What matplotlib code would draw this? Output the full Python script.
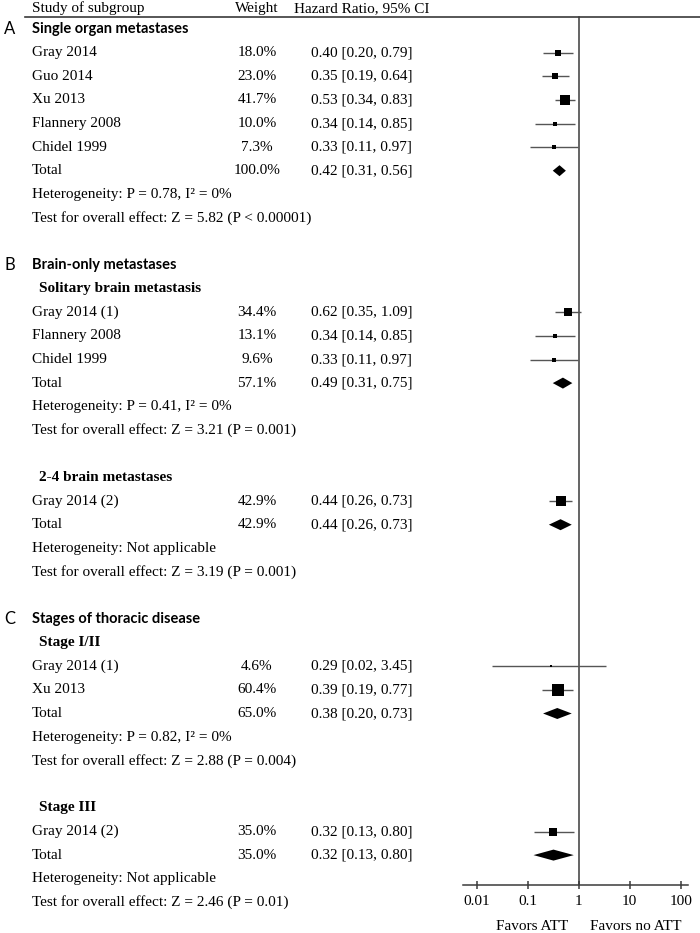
import numpy as np
import matplotlib
matplotlib.use('Agg')
import matplotlib.pyplot as plt

# ---- data ----
studies = ['Gray 2014', 'Guo 2014', 'Xu 2013', 'Flannery 2008', 'Chidel 1999',
           'Gray 2014 (1)', 'Flannery 2008', 'Chidel 1999',
           'Gray 2014 (2)',
           'Gray 2014 (1)', 'Xu 2013',
           'Gray 2014 (2)']
weights = [18.0, 23.0, 41.7, 10.0, 7.3, 34.4, 13.1, 9.6, 42.9, 4.6, 60.4, 35.0]
hr = [0.40, 0.35, 0.53, 0.34, 0.33, 0.62, 0.34, 0.33, 0.44, 0.29, 0.39, 0.32]
ci_low = [0.20, 0.19, 0.34, 0.14, 0.11, 0.35, 0.14, 0.11, 0.26, 0.02, 0.19, 0.13]
ci_high = [0.79, 0.64, 0.83, 0.85, 0.97, 1.09, 0.85, 0.97, 0.73, 3.45, 0.77, 0.80]

n_studies = [5, 3, 1, 2, 1]  # studies per subgroup
sub_titles = [None, 'Solitary brain metastasis', '2-4 brain metastases', 'Stage I/II', 'Stage III']
sections = {0: ('A', 'Single organ metastases'),
            1: ('B', 'Brain-only metastases'),
            3: ('C', 'Stages of thoracic disease')}
total_weight = [100.0, 57.1, 42.9, 65.0, 35.0]
total_hr = [0.42, 0.49, 0.44, 0.38, 0.32]
total_low = [0.31, 0.31, 0.26, 0.20, 0.13]
total_high = [0.56, 0.75, 0.73, 0.73, 0.80]
heterogeneity = ['P = 0.78, I\u00b2 = 0%', 'P = 0.41, I\u00b2 = 0%', 'Not applicable',
                 'P = 0.82, I\u00b2 = 0%', 'Not applicable']
overall = ['Z = 5.82 (P < 0.00001)', 'Z = 3.21 (P = 0.001)', 'Z = 3.19 (P = 0.001)',
           'Z = 2.88 (P = 0.004)', 'Z = 2.46 (P = 0.01)']

tick_vals = [0.01, 0.1, 1, 10, 100]
tick_labels = ['0.01', '0.1', '1', '10', '100']

# ---- layout ----
SERIF = 'Liberation Serif'
SANS = 'Lato'
FS = 11
W, H = 700, 933
row_h = 23.6
y0 = 5.5
axis_y = 885
x_name, x_weight, x_hr, x_ci = 32, 257, 294, 311
ink = '#3a3a3a'

def row_y(r):
    return y0 + row_h * r

fig = plt.figure(figsize=(7, 9.33), dpi=100)
bg = fig.add_axes([0, 0, 1, 1])
bg.set_xlim(0, W)
bg.set_ylim(H, 0)
bg.axis('off')

# forest axes: log x, same pixel rows as bg on y
left_px, right_px = 463, 688
fa = fig.add_axes([left_px / W, (H - axis_y) / H, (right_px - left_px) / W, axis_y / H])
fa.set_xscale('log')
fa.set_xlim(10 ** -2.269, 10 ** 2.143)
fa.set_ylim(axis_y, 0)
fa.patch.set_alpha(0)
for s in ['top', 'left', 'right']:
    fa.spines[s].set_visible(False)
fa.spines['bottom'].set_color(ink)
fa.spines['bottom'].set_linewidth(1.1)
fa.set_yticks([])
fa.set_xticks(tick_vals)
fa.set_xticklabels(tick_labels, fontfamily=SERIF, fontsize=FS)
fa.minorticks_off()
fa.tick_params(axis='x', direction='inout', length=6, width=1.1, color=ink, pad=4)

# header
hdr_y = 8.5
bg.text(x_name, hdr_y, 'Study of subgroup', fontfamily=SERIF, fontsize=FS, va='center')
bg.text(x_weight, hdr_y, 'Weight', fontfamily=SERIF, fontsize=FS, va='center', ha='center')
bg.text(x_hr, hdr_y, 'Hazard Ratio, 95% CI', fontfamily=SERIF, fontsize=FS, va='center')
bg.plot([25, W], [16.7, 16.7], color=ink, lw=1.2)

# reference line at HR = 1
fa.plot([1, 1], [16.7, axis_y], color=ink, lw=1.1)

def box_pts(w):
    # box side grows with study weight
    return (1.63 + 0.188 * w) * 0.72

row = 1
k = 0
for g in range(len(n_studies)):
    if g in sections:
        if g > 0:
            row += 1
        letter, title = sections[g]
        y = row_y(row)
        bg.text(4, y, letter, fontfamily=SANS, fontsize=12, va='center')
        bg.text(x_name, y, title, fontfamily=SANS, fontweight='bold', fontsize=10.5, va='center')
        row += 1
    elif g > 0:
        row += 1
    if sub_titles[g]:
        bg.text(39, row_y(row), sub_titles[g], fontfamily=SERIF, fontweight='bold',
                fontsize=FS, va='center')
        row += 1
    for _ in range(n_studies[g]):
        y = row_y(row)
        bg.text(x_name, y, studies[k], fontfamily=SERIF, fontsize=FS, va='center')
        bg.text(x_weight, y, f'{weights[k]:.1f}%', fontfamily=SERIF, fontsize=FS,
                va='center', ha='center')
        bg.text(x_ci, y, f'{hr[k]:.2f} [{ci_low[k]:.2f}, {ci_high[k]:.2f}]',
                fontfamily=SERIF, fontsize=FS, va='center')
        fa.hlines(y, ci_low[k], ci_high[k], color='#555555', lw=1)
        fa.plot(hr[k], y, marker='s', ms=box_pts(weights[k]), color='black', mew=0)
        k += 1
        row += 1
    # subgroup total
    y = row_y(row)
    bg.text(x_name, y, 'Total', fontfamily=SERIF, fontsize=FS, va='center')
    bg.text(x_weight, y, f'{total_weight[g]:.1f}%', fontfamily=SERIF, fontsize=FS,
            va='center', ha='center')
    bg.text(x_ci, y, f'{total_hr[g]:.2f} [{total_low[g]:.2f}, {total_high[g]:.2f}]',
            fontfamily=SERIF, fontsize=FS, va='center')
    fa.fill([total_low[g], total_hr[g], total_high[g], total_hr[g]],
            [y, y - 5.5, y, y + 5.5], color='black', lw=0)
    row += 1
    bg.text(x_name, row_y(row), 'Heterogeneity: ' + heterogeneity[g], fontfamily=SERIF,
            fontsize=FS, va='center')
    row += 1
    bg.text(x_name, row_y(row), 'Test for overall effect: ' + overall[g], fontfamily=SERIF,
            fontsize=FS, va='center')
    row += 1

bg.text(532, 927, 'Favors ATT', fontfamily=SERIF, fontsize=FS, va='center', ha='center')
bg.text(636, 927, 'Favors no ATT', fontfamily=SERIF, fontsize=FS, va='center', ha='center')

fig.savefig('out.png', dpi=100)
